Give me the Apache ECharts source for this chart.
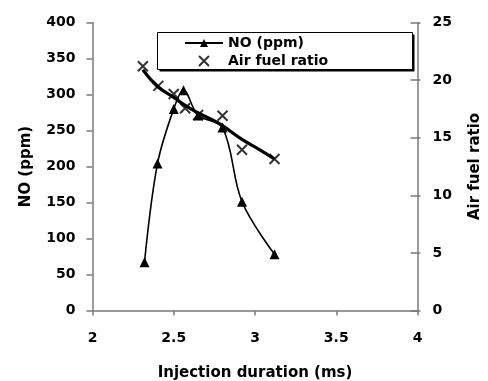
<!DOCTYPE html>
<html>
<head>
<meta charset="utf-8">
<script src="https://cdn.jsdelivr.net/npm/echarts@6/dist/echarts.min.js"></script>
<style>
  html, body { margin: 0; padding: 0; background: #fff; }
  #chart { width: 488px; height: 381px; }
</style>
</head>
<body>
<div id="chart"></div>
<script>
// Injection duration (ms) for each test point
const injection = [2.32, 2.40, 2.50, 2.56, 2.65, 2.80, 2.92, 3.12];
// NO emission (ppm)
const noPpm = [67, 204, 280, 306, 271, 254, 151, 78];
// Measured air fuel ratio
const afrInjection = [2.31, 2.405, 2.50, 2.57, 2.65, 2.80, 2.92, 3.12];
const airFuel = [21.2, 19.5, 18.8, 17.55, 16.97, 16.9, 13.95, 13.15];
// Air fuel ratio trend curve
const trendX = [2.31, 2.40, 2.50, 2.57, 2.65, 2.73, 2.80, 2.92, 3.03, 3.12];
const trendY = [20.9, 19.45, 18.5, 17.8, 17.15, 16.6, 16.05, 14.85, 13.95, 13.15];
// Axis ticks
const xTicks = { min: 2, max: 4, step: 0.5 };
const noTicks = { min: 0, max: 400, step: 50 };
const afrTicks = { min: 0, max: 25, step: 5 };

const FONT = 'DejaVu Sans';
const AXIS_GREY = '#7a7a7a';
const X_MARK = 'path://M0,0L10,10M10,0L0,10';

const zip = (xs, ys) => xs.map((x, i) => [x, ys[i]]);

const labelStyle = { color: '#000', fontFamily: FONT, fontWeight: 'bold', fontSize: 14 };
const nameStyle = { color: '#000', fontFamily: FONT, fontWeight: 'bold', fontSize: 15 };

const chart = echarts.init(document.getElementById('chart'), null, { renderer: 'canvas' });

chart.setOption({
  backgroundColor: '#fff',
  animation: false,
  grid: {
    left: 92.5, right: 70.5, top: 22.5, bottom: 70.5,
    containLabel: false,
    outerBoundsMode: 'none'
  },
  graphic: [
    {
      // legend frame with its drop shadow
      type: 'group',
      left: 157, top: 32,
      z: 4,
      children: [
        { type: 'rect', x: 2, y: 2, shape: { width: 255, height: 37 }, style: { fill: '#000' } },
        { type: 'rect', x: 0, y: 0, shape: { width: 255, height: 37 }, style: { fill: '#fff', stroke: '#000', lineWidth: 1 } }
      ]
    }
  ],
  legend: {
    orient: 'vertical',
    left: 184,
    top: 36,
    padding: 0,
    itemWidth: 38,
    itemHeight: 10,
    itemGap: 4,
    z: 6,
    textStyle: { color: '#000', fontFamily: FONT, fontWeight: 'bold', fontSize: 14 },
    data: [
      { name: 'NO (ppm)' },
      { name: 'Air fuel ratio', itemStyle: { borderWidth: 2 } }
    ]
  },
  xAxis: {
    type: 'value',
    min: xTicks.min, max: xTicks.max, interval: xTicks.step,
    name: 'Injection duration (ms)',
    nameLocation: 'middle',
    nameGap: 55,
    nameTextStyle: nameStyle,
    axisLine: { show: true, onZero: false, lineStyle: { color: AXIS_GREY, width: 1.5 } },
    axisTick: { show: true, inside: false, length: 5, lineStyle: { color: AXIS_GREY, width: 1.5 } },
    axisLabel: Object.assign({ margin: 21 }, labelStyle),
    splitLine: { show: false }
  },
  yAxis: [
    {
      type: 'value',
      position: 'left',
      min: noTicks.min, max: noTicks.max, interval: noTicks.step,
      name: 'NO (ppm)',
      nameLocation: 'middle',
      nameGap: 59,
      nameTextStyle: nameStyle,
      axisLine: { show: true, lineStyle: { color: AXIS_GREY, width: 1.5 } },
      axisTick: { show: true, inside: false, length: 6, lineStyle: { color: AXIS_GREY, width: 1.5 } },
      axisLabel: Object.assign({ margin: 17 }, labelStyle),
      splitLine: { show: false }
    },
    {
      type: 'value',
      position: 'right',
      min: afrTicks.min, max: afrTicks.max, interval: afrTicks.step,
      name: 'Air fuel ratio',
      nameLocation: 'middle',
      nameGap: 50,
      nameTextStyle: nameStyle,
      axisLine: { show: true, lineStyle: { color: AXIS_GREY, width: 1.5 } },
      axisTick: { show: true, inside: false, length: 3, lineStyle: { color: AXIS_GREY, width: 1.5 } },
      axisLabel: Object.assign({ margin: 15 }, labelStyle),
      splitLine: { show: false }
    },
    {
      // inner half of the crossing ticks on the right-hand axis
      type: 'value',
      position: 'right',
      min: afrTicks.min, max: afrTicks.max, interval: afrTicks.step,
      axisLine: { show: false },
      axisTick: { show: true, inside: true, length: 7, lineStyle: { color: AXIS_GREY, width: 1.5 } },
      axisLabel: { show: false },
      splitLine: { show: false }
    }
  ],
  series: [
    {
      name: 'Air fuel ratio trend',
      type: 'line',
      yAxisIndex: 1,
      data: zip(trendX, trendY),
      smooth: 0.4,
      symbol: 'none',
      lineStyle: { color: '#000', width: 3.2 },
      z: 2
    },
    {
      name: 'NO (ppm)',
      type: 'line',
      yAxisIndex: 0,
      data: zip(injection, noPpm),
      smooth: 0.35,
      symbol: 'triangle',
      symbolSize: 10,
      itemStyle: { color: '#000' },
      lineStyle: { color: '#000', width: 1.6 },
      z: 3
    },
    {
      name: 'Air fuel ratio',
      type: 'scatter',
      yAxisIndex: 1,
      data: zip(afrInjection, airFuel),
      symbol: X_MARK,
      symbolSize: 10,
      itemStyle: { color: 'rgba(0,0,0,0)', borderColor: '#000', borderWidth: 2 },
      z: 4
    }
  ]
});
</script>
</body>
</html>
